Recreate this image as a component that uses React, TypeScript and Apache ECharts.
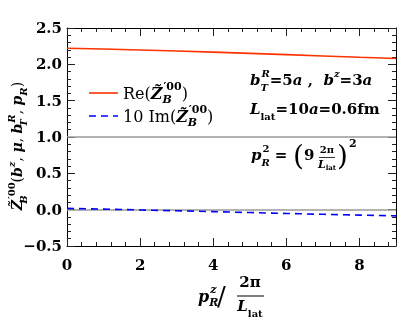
import React, { useEffect, useRef } from "react";
import * as echarts from "echarts";

// ---- data ----
const xValues = [0, 1, 2, 3, 4, 5, 6, 7, 8, 9];
const reValues = [2.222, 2.21, 2.198, 2.184, 2.168, 2.151, 2.133, 2.115, 2.097, 2.08];
const imValues = [0.018, 0.007, -0.004, -0.015, -0.027, -0.04, -0.052, -0.064, -0.075, -0.085];
const refLines = [1.0, 0.0];
const xMajorLabels = [0, 2, 4, 6, 8];

const SERIF = "DejaVu Serif";

function f(size: number, weight: string, style: string, extra: any = {}) {
  return { fontFamily: SERIF, fontSize: size, fontWeight: weight, fontStyle: style, ...extra };
}

function makeRich(size: number, lh: number) {
  const s = Math.round(size * 0.68);
  const sl = Math.round(lh / 2);
  return {
    n: f(size, "normal", "normal", { lineHeight: lh }),
    nb: f(size, "bold", "normal", { lineHeight: lh }),
    i: f(size, "normal", "italic", { lineHeight: lh }),
    bi: f(size, "bold", "italic", { lineHeight: lh }),
    supi: f(s, "bold", "italic", { lineHeight: sl, verticalAlign: "top" }),
    supb: f(s, "bold", "normal", { lineHeight: sl, verticalAlign: "top" }),
    subi: f(s, "bold", "italic", { lineHeight: sl, verticalAlign: "bottom" }),
    subb: f(s, "bold", "normal", { lineHeight: sl, verticalAlign: "bottom" }),
    subi0: f(s, "bold", "italic", { lineHeight: sl, verticalAlign: "bottom", width: 1 }),
    subb0: f(s, "bold", "normal", { lineHeight: sl, verticalAlign: "bottom", width: 1 }),
  };
}

function txt(x: number, y: number, text: string, rich: any, align = "left", extra: any = {}) {
  return {
    type: "text",
    x,
    y,
    silent: true,
    style: {
      text,
      rich,
      fill: "#000",
      align,
      verticalAlign: "middle",
      ...extra,
    },
  };
}

function plain(x: number, y: number, text: string, size: number, weight: string, style: string, align = "left") {
  return {
    type: "text",
    x,
    y,
    silent: true,
    style: {
      text,
      fill: "#000",
      fontFamily: SERIF,
      fontSize: size,
      fontWeight: weight,
      fontStyle: style,
      align,
      verticalAlign: "middle",
    },
  };
}

export default function App() {
  const ref = useRef<HTMLDivElement>(null);

  useEffect(() => {
    if (!ref.current) return;
    const chart = echarts.init(ref.current, null, { renderer: "svg" });

    const r16 = makeRich(16, 24);
    const r15 = makeRich(15, 24);
    const r14 = makeRich(14, 22);
    const r11 = makeRich(11, 14);

    const tickColor = "#222";
    const labelFont = { fontFamily: SERIF, fontWeight: "bold", fontSize: 15, color: "#000" };

    const xBase = (pos: string, interval: number, len: number, showLine: boolean, labels: boolean) => ({
      type: "value",
      position: pos,
      min: 0,
      max: 9,
      interval,
      axisLine: { show: showLine, onZero: false, lineStyle: { color: "#000", width: 1 } },
      axisTick: { show: true, inside: true, length: len, lineStyle: { color: tickColor, width: 1 } },
      axisLabel: labels
        ? {
            show: true,
            margin: 11,
            showMaxLabel: false,
            ...labelFont,
            formatter: (v: number) =>
              xMajorLabels.indexOf(Math.round(v)) >= 0 && Math.abs(v - Math.round(v)) < 1e-6 ? String(Math.round(v)) : "",
          }
        : { show: false },
      splitLine: { show: false },
    });

    const yBase = (pos: string, labels: boolean) => ({
      type: "value",
      position: pos,
      min: -0.5,
      max: 2.5,
      interval: 0.5,
      axisLine: { show: true, onZero: false, lineStyle: { color: "#000", width: 1 } },
      axisTick: { show: true, inside: true, length: 8, lineStyle: { color: tickColor, width: 1 } },
      minorTick: { show: true, splitNumber: 5, length: 4, lineStyle: { color: tickColor, width: 1 } },
      axisLabel: labels
        ? {
            show: true,
            margin: 5,
            ...labelFont,
            formatter: (v: number) => (v < 0 ? "\u2212" + Math.abs(v).toFixed(1) : v.toFixed(1)),
          }
        : { show: false },
      splitLine: { show: false },
      minorSplitLine: { show: false },
    });

    const option: any = {
      animation: false,
      grid: { left: 67, right: 3, top: 28, bottom: 74, containLabel: false },
      xAxis: [
        xBase("bottom", 2, 8, true, true),
        xBase("bottom", 0.4, 4, false, false),
        xBase("top", 2, 8, true, false),
        xBase("top", 0.4, 4, false, false),
      ],
      yAxis: [yBase("left", true), yBase("right", false)],
      series: [
        {
          type: "line",
          name: "Re",
          xAxisIndex: 0,
          yAxisIndex: 0,
          data: xValues.map((x, i) => [x, reValues[i]]),
          showSymbol: false,
          symbol: "none",
          lineStyle: { color: "#ff3300", width: 1.6 },
          itemStyle: { color: "#ff3300" },
          silent: true,
          z: 3,
          markLine: {
            silent: true,
            symbol: ["none", "none"],
            label: { show: false },
            lineStyle: { color: "#9a9a9a", width: 1.6, type: "solid" },
            data: refLines.map((v) => ({ yAxis: v })),
            z: 1,
          },
        },
        {
          type: "line",
          name: "Im",
          xAxisIndex: 0,
          yAxisIndex: 0,
          data: xValues.map((x, i) => [x, imValues[i]]),
          showSymbol: false,
          symbol: "none",
          lineStyle: { color: "#0000ff", width: 1.6, type: [7, 5] },
          itemStyle: { color: "#0000ff" },
          silent: true,
          z: 4,
        },
      ],
      graphic: [
        // legend samples
        { type: "line", silent: true, shape: { x1: 89, y1: 93, x2: 118, y2: 93 }, style: { stroke: "#ff3300", lineWidth: 1.6 } },
        { type: "line", silent: true, shape: { x1: 89, y1: 116, x2: 118, y2: 116 }, style: { stroke: "#0000ff", lineWidth: 1.6, lineDash: [7, 5] } },
        // legend texts
        txt(123, 93, "{n|Re(}{bi|Z\u0303}{subi0|B}{supb|\u203200}{n|)}", r16),
        txt(123, 116, "{n|10 Im(}{bi|Z\u0303}{subi0|B}{supb|\u203200}{n|)}", r16),
        // annotations
        txt(250, 80, "{bi|b}{subi0|T}{supi|R}{nb|=5}{bi|a}{nb| ,  }{bi|b}{supi|z}{nb|=3}{bi|a}", r15),
        txt(250, 109, "{bi|L}{subb|lat}{nb|=10}{bi|a}{nb|=0.6fm}", r15),
        txt(251, 155, "{bi|p}{subi0|R}{supb|2}{nb| = }", r15),
        plain(293, 155, "(", 28, "normal", "normal"),
        plain(304, 155, "9", 15, "bold", "normal"),
        plain(327, 149, "2\u03c0", 10, "bold", "normal", "center"),
        { type: "line", silent: true, shape: { x1: 319, y1: 157.5, x2: 335, y2: 157.5 }, style: { stroke: "#000", lineWidth: 0.8 } },
        txt(327, 164, "{bi|L}{subb|lat}", r11, "center"),
        plain(337, 155, ")", 28, "normal", "normal"),
        plain(349, 143, "2", 11, "bold", "normal"),
        // x axis title
        txt(198, 296, "{bi|p}{subi0|R}{supi|z}", r16),
        plain(217, 296, "/", 26, "normal", "normal"),
        plain(250, 282, "2\u03c0", 15, "bold", "normal", "center"),
        { type: "line", silent: true, shape: { x1: 237, y1: 296, x2: 264, y2: 296 }, style: { stroke: "#000", lineWidth: 1 } },
        txt(250, 306, "{bi|L}{subb|lat}", r15, "center"),
        // y axis title (rotated)
        {
          type: "group",
          x: 17,
          y: 146,
          rotation: Math.PI / 2,
          children: [
            txt(
              0,
              0,
              "{bi|Z\u0303}{subi0|B}{supb|\u203200}{n|(}{bi|b}{supi|z}{n|, }{bi|\u03bc}{n|, }{bi|b}{subi0|T}{supi|R}{n|, }{bi|p}{subi|R}{n|)}",
              r14,
              "center"
            ),
          ],
        },
      ],
    };

    chart.setOption(option);
    return () => chart.dispose();
  }, []);

  return <div ref={ref} style={{ position: "fixed", left: 0, top: 0, width: 399, height: 320 }} />;
}
